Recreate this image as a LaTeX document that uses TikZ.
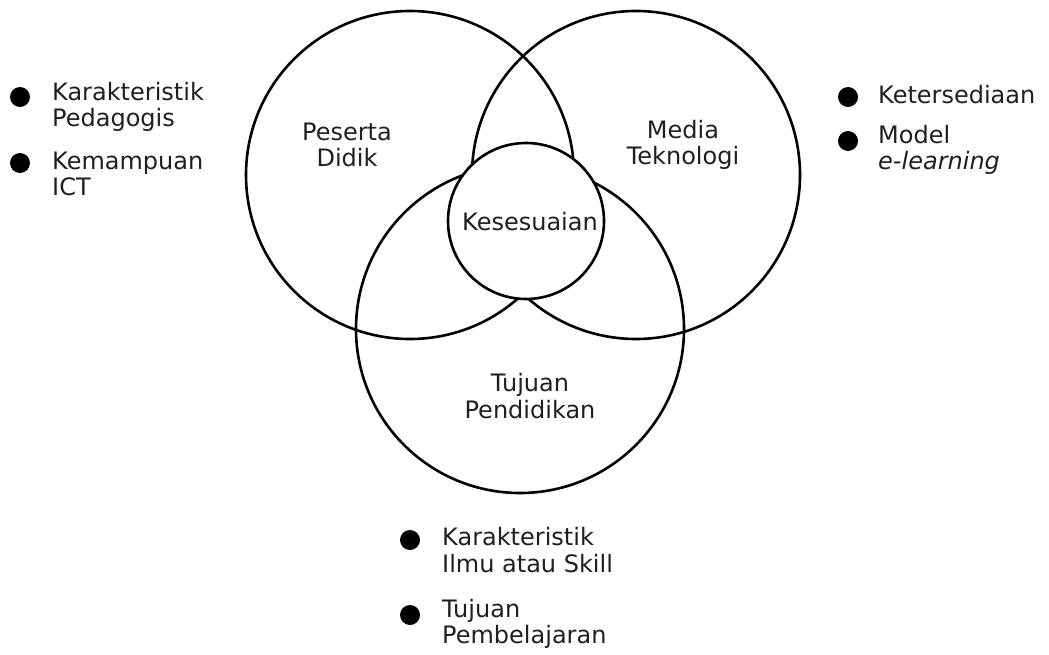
\documentclass[tikz,border=0pt]{standalone}
\usepackage{fontspec}
\setmainfont{DejaVu Sans}
\begin{document}
\begin{tikzpicture}[x=1pt,y=-1pt,
  ring/.style={draw=black,line width=2.6pt,circle,inner sep=0pt},
  dot/.style={fill=black,circle,inner sep=0pt,minimum size=20pt},
  lab/.style={font=\fontsize{24}{26.5}\selectfont,align=center,inner sep=0pt,text=black!88},
  item/.style={font=\fontsize{24}{26.5}\selectfont,align=left,anchor=west,inner sep=0pt,text=black!88}]
\useasboundingbox (0,0) rectangle (1049,655);
% circles
\node[ring,minimum size=328pt] (pd) at (410,175) {};
\node[ring,minimum size=328pt] (mt) at (636,175) {};
\node[ring,minimum size=328pt] (tp) at (520,329) {};
\node[ring,fill=white,minimum size=156pt] (ks) at (526,221) {};
% labels in circles
\node[lab] (pdl) at (347,145) {Peserta\\Didik};
\node[lab] (mtl) at (683,145) {Media\\Teknologi};
\node[lab] (ksl) at (530,222) {Kesesuaian};
\node[lab] (tpl) at (530,396) {Tujuan\\Pendidikan};
% left list
\node[dot] (d1) at (20,97) {};
\node[item] (t1) at (52,107) {Karakteristik\\Pedagogis};
\node[dot] (d2) at (20,163) {};
\node[item] (t2) at (52,174) {Kemampuan\\ICT};
% right list
\node[dot] (d3) at (848,97) {};
\node[item] (t3) at (878,95) {Ketersediaan};
\node[dot] (d4) at (848,141) {};
\node[item] (t4) at (878,150) {Model\\\textit{e-learning}};
% bottom list
\node[dot] (d5) at (410,540) {};
\node[item] (t5) at (442,550) {Karakteristik\\Ilmu atau Skill};
\node[dot] (d6) at (410,615) {};
\node[item] (t6) at (442,624) {Tujuan\\Pembelajaran};
\end{tikzpicture}
\end{document}
